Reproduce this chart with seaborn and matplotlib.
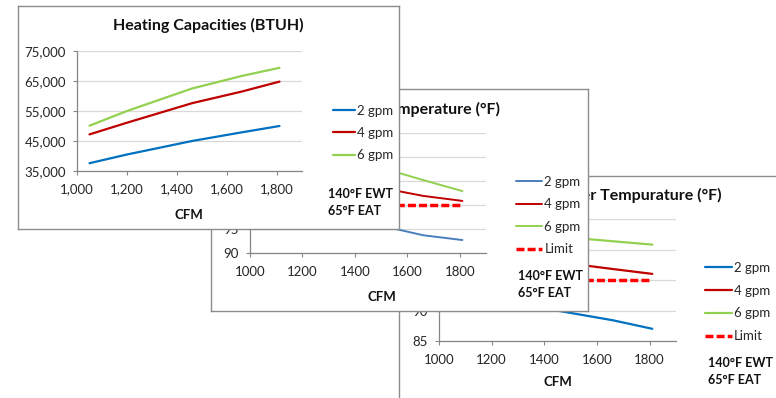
import matplotlib
matplotlib.use("Agg")
import matplotlib.pyplot as plt
import seaborn as sns
import pandas as pd
from matplotlib.ticker import FuncFormatter

sns.set_theme(style="white")
plt.rcParams['font.family'] = ['Lato', 'DejaVu Sans']

W, H = 776, 398

# ---------------- data ----------------
cfm = [1050, 1200, 1460, 1660, 1810]
series = ["2 gpm", "4 gpm", "6 gpm"]

# Heating capacities (BTUH)
cap_2gpm = [37600, 40500, 45000, 47900, 50000]
cap_4gpm = [47200, 51100, 57600, 61500, 64800]
cap_6gpm = [50100, 55000, 62500, 66700, 69400]

# Leaving air temperature (F)
lat_2gpm = [99.5, 98.0, 96.2, 93.7, 92.7]
lat_4gpm = [108.0, 106.5, 104.0, 101.9, 100.85]
lat_6gpm = [112.5, 111.0, 108.4, 105.2, 102.9]
lat_limit = [100, 100]

# Leaving water temperature (F)
lwt_2gpm = [93.0, 91.5, 89.9, 88.4, 87.0]
lwt_4gpm = [100.5, 99.3, 97.9, 96.8, 96.0]
lwt_6gpm = [103.5, 102.8, 102.1, 101.35, 100.8]
lwt_limit = [95, 95]

limit_cfm = [1050, 1810]
x_ticks = [1000, 1200, 1400, 1600, 1800]
cap_ticks = [35000, 45000, 55000, 65000, 75000]
lat_ticks = [90, 95, 100, 105, 110, 115]
lwt_ticks = [85, 90, 95, 100, 105]

titles = ["Heating Capacities (BTUH)",
          "Leaving Air Temperature (\u00b0F)",
          "Leaving Water Tempurature (\u00b0F)"]
cond1 = "140\u00b0F EWT"
cond2 = "65\u00b0F EAT"


def long_df(vals):
    rows = []
    for name, v in zip(series, vals):
        for x, y in zip(cfm, v):
            rows.append({"CFM": x, "value": y, "series": name})
    return pd.DataFrame(rows)


fig = plt.figure(figsize=(W / 100, H / 100), dpi=100)


def rect(x0, y0, x1, y1):
    return [x0 / W, 1 - y1 / H, (x1 - x0) / W, (y1 - y0) / H]


def fxy(x, y):
    return x / W, 1 - y / H


def make_frame(box, z):
    ax = fig.add_axes(rect(*box))
    ax.set_zorder(z)
    ax.set_xticks([])
    ax.set_yticks([])
    ax.set_facecolor("white")
    for s in ax.spines.values():
        s.set_visible(True)
        s.set_color("#8c8c8c")
        s.set_linewidth(1.0)
    return ax


def make_panel(frame_box, plot_box, z, vals, palette, lw, ylim, yticks, yfmt,
               title, title_xy, title_ha, leg_xy, leg_hl, leg_ls,
               cfm_xy, cond_xy, limit=None, dash_lw=2.5):
    fr = make_frame(frame_box, z)
    tx, ty = fxy(*title_xy)
    fr.text(tx, ty, title, transform=fig.transFigure, ha=title_ha, va="center",
            fontsize=11.5, fontweight="bold", color="#111111")
    cx, cy = fxy(*cond_xy)
    fr.text(cx, cy, cond1, transform=fig.transFigure, ha="left", va="center",
            fontsize=9, fontweight="bold", color="#111111")
    cx2, cy2 = fxy(cond_xy[0], cond_xy[1] + 17)
    fr.text(cx2, cy2, cond2, transform=fig.transFigure, ha="left", va="center",
            fontsize=9, fontweight="bold", color="#111111")

    ax = fig.add_axes(rect(*plot_box))
    ax.set_zorder(z + 0.5)
    ax.patch.set_alpha(0)
    df = long_df(vals)
    sns.lineplot(data=df, x="CFM", y="value", hue="series", hue_order=series,
                 palette=palette, linewidth=lw, ax=ax, legend=False,
                 errorbar=None, sort=False)
    labels = list(series)
    if limit is not None:
        sns.lineplot(x=limit_cfm, y=limit, ax=ax, color="#ff0000",
                     linewidth=dash_lw, linestyle=(0, (2.3, 0.9)))
        labels.append("Limit")
    ax.set_xlim(1000, 1900)
    ax.set_ylim(*ylim)
    ax.set_xticks(x_ticks)
    ax.set_yticks(yticks)
    ax.xaxis.set_major_formatter(FuncFormatter(yfmt))
    ax.yaxis.set_major_formatter(FuncFormatter(yfmt))
    ax.yaxis.grid(True, color="#d9d9d9", linewidth=0.9)
    ax.xaxis.grid(False)
    ax.set_axisbelow(True)
    for s in ["top", "right"]:
        ax.spines[s].set_visible(False)
    for s in ["left", "bottom"]:
        ax.spines[s].set_color("#868686")
        ax.spines[s].set_linewidth(0.9)
    ax.tick_params(axis="both", which="major", direction="out", length=3,
                   width=0.8, color="#868686", labelsize=9.5,
                   labelcolor="#262626", bottom=True, left=True)
    ax.tick_params(axis="y", pad=5)
    ax.tick_params(axis="x", pad=6)
    ax.set_ylabel("")
    ax.set_xlabel("CFM", fontsize=9.5, fontweight="bold", color="#111111")
    px0, py0, px1, py1 = plot_box
    ax.xaxis.set_label_coords((cfm_xy[0] - px0) / (px1 - px0),
                              (py1 - cfm_xy[1]) / (py1 - py0))
    ax.xaxis.label.set_va("center")

    lx, ly = fxy(*leg_xy)
    ax.legend(handles=list(ax.lines), labels=labels, loc="center left",
              bbox_to_anchor=(lx, ly), bbox_transform=fig.transFigure,
              frameon=False, fontsize=9.5, handlelength=leg_hl,
              handletextpad=0.15, labelspacing=leg_ls, borderpad=0,
              borderaxespad=0, labelcolor="#262626")
    return ax


comma = lambda v, p: f"{int(v):,}"
plain = lambda v, p: f"{int(v)}"

# Panel 3 (bottom layer)
make_panel(frame_box=(399, 176, 782, 404), plot_box=(439, 219, 676, 341), z=1,
           vals=[lwt_2gpm, lwt_4gpm, lwt_6gpm],
           palette=["#0070c0", "#c00000", "#92d050"], lw=1.6,
           ylim=(85, 105), yticks=lwt_ticks, yfmt=plain,
           title=titles[2], title_xy=(722, 195), title_ha="right",
           leg_xy=(705, 302), leg_hl=2.05, leg_ls=0.82,
           cfm_xy=(558, 382), cond_xy=(708, 363), limit=lwt_limit)

# Panel 2 (middle layer)
make_panel(frame_box=(211, 89, 588, 311), plot_box=(250, 133, 486, 253), z=3,
           vals=[lat_2gpm, lat_4gpm, lat_6gpm],
           palette=["#4a7ebb", "#c00000", "#92d050"], lw=1.4,
           ylim=(90, 115), yticks=lat_ticks, yfmt=plain,
           title=titles[1], title_xy=(500, 109), title_ha="right",
           leg_xy=(516, 215.5), leg_hl=2.0, leg_ls=0.80,
           cfm_xy=(382, 297), cond_xy=(518, 276), limit=lat_limit)

# Panel 1 (top layer)
make_panel(frame_box=(18, 6, 399, 229), plot_box=(77, 51, 302, 171), z=5,
           vals=[cap_2gpm, cap_4gpm, cap_6gpm],
           palette=["#0070c0", "#c00000", "#92d050"], lw=1.6,
           ylim=(35000, 75000), yticks=cap_ticks, yfmt=comma,
           title=titles[0], title_xy=(208, 25), title_ha="center",
           leg_xy=(333, 133), leg_hl=1.7, leg_ls=0.78,
           cfm_xy=(189, 215), cond_xy=(328, 194), limit=None)

fig.savefig("out.png", dpi=100)
